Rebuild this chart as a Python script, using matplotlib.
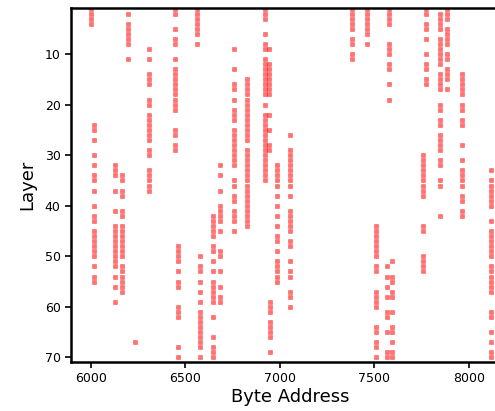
import matplotlib
matplotlib.use("Agg")
import matplotlib.pyplot as plt

# Byte address of each accessed column and the layers that touch it
addresses = [
    6000, 6016, 6127, 6164, 6196, 6233, 6307, 6444, 6460, 6561,
    6577, 6645, 6682, 6757, 6825, 6920, 6942, 6947, 6984, 7053,
    7381, 7460, 7508, 7566, 7576, 7592, 7756, 7772, 7846, 7883,
    7963, 8116,
]
layers = [
    [0, 1, 2, 3, 4],
    [24, 25, 27, 30, 32, 34, 35, 37, 40, 42, 43, 45, 46, 47, 48, 49, 50, 52, 54, 55],
    [32, 33, 34, 37, 41, 44, 45, 46, 47, 48, 49, 50, 51, 52, 54, 56, 59],
    [34, 35, 37, 38, 41, 42, 44, 45, 46, 47, 48, 49, 50, 52, 53, 54, 55, 56, 57],
    [2, 4, 5, 6, 7, 8, 11],
    [67],
    [9, 11, 14, 15, 16, 19, 20, 22, 23, 24, 25, 26, 27, 29, 30, 33, 34, 35, 36, 37],
    [0, 1, 2, 5, 7, 8, 11, 13, 14, 15, 16, 17, 18, 19, 20, 21, 25, 26, 28, 29],
    [48, 49, 50, 51, 53, 55, 56, 60, 61, 62, 68, 70],
    [0, 1, 2, 3, 4, 5, 6, 8],
    [50, 52, 53, 55, 57, 59, 61, 62, 63, 64, 65, 66, 67, 68, 70],
    [42, 43, 44, 45, 46, 48, 49, 51, 53, 55, 56, 57, 58, 59, 62, 66, 68, 69, 70],
    [32, 34, 37, 40, 41, 42, 43, 45, 49, 50, 53, 56, 58, 59],
    [9, 13, 16, 17, 19, 21, 22, 23, 25, 26, 27, 28, 29, 30, 31, 32, 35, 36, 38, 39,
     41, 42, 43, 45],
    [15, 16, 17, 18, 19, 20, 21, 22, 23, 24, 25, 26, 27, 29, 30, 31, 32, 33, 34, 35,
     36, 37, 38, 39, 40, 41, 42, 43, 44],
    [0, 1, 2, 3, 6, 8, 9, 11, 12, 13, 14, 15, 16, 17, 18, 20, 22, 23, 24, 25, 26, 27,
     28, 29, 30, 31, 32, 33, 34, 35],
    [9, 12, 13, 14, 15, 16, 17, 18, 22, 25, 28, 29],
    [59, 60, 61, 63, 64, 65, 66, 69],
    [32, 33, 34, 35, 36, 38, 40, 42, 44, 46, 47, 49, 51, 52, 53, 54, 55],
    [26, 29, 30, 31, 32, 33, 34, 35, 36, 38, 41, 42, 43, 44, 45, 47, 48, 51, 53, 54,
     57, 58, 60],
    [0, 1, 2, 3, 4, 5, 7, 8, 10, 11],
    [0, 1, 2, 3, 4, 5, 6, 8],
    [44, 45, 46, 47, 48, 49, 50, 52, 53, 57, 58, 59, 60, 64, 65, 67, 68, 70],
    [52, 54, 56, 58, 61, 62, 65, 69, 70],
    [0, 1, 2, 3, 4, 8, 9, 10, 12, 13, 16, 19],
    [51, 54, 55, 57, 58, 61, 64, 65, 67, 69, 70],
    [30, 31, 32, 33, 34, 35, 36, 37, 38, 44, 45, 50, 51, 52, 53],
    [0, 1, 2, 4, 5, 7, 10, 12, 13, 15, 16],
    [2, 3, 4, 5, 7, 8, 9, 10, 11, 12, 14, 15, 16, 17, 20, 21, 23, 24, 26, 27, 28, 29,
     31, 32, 35, 36, 42],
    [0, 1, 2, 3, 5, 6, 7, 8, 10, 11, 13, 14, 15, 17],
    [14, 15, 16, 17, 18, 20, 21, 23, 24, 28, 31, 33, 34, 35, 36, 38, 39, 41, 42],
    [33, 35, 36, 37, 38, 39, 40, 43, 45, 46, 47, 48, 49, 50, 52, 53, 54, 55, 56, 57,
     61, 62, 65, 67, 69, 70],
]

xs = [a for a, ls in zip(addresses, layers) for _ in ls]
ys = [l for ls in layers for l in ls]

fig = plt.figure(figsize=(4.95, 4.11), dpi=100)
ax = fig.add_axes([0.1434, 0.1192, 0.8848, 0.8613])

ax.scatter(xs, ys, marker="s", s=9, color="red", alpha=0.55,
           edgecolors="red", linewidths=0.4, clip_on=True)

ax.set_xlim(5894, 8212)
ax.set_ylim(70.9, 0.9)
ax.set_xticks([6000, 6500, 7000, 7500, 8000])
ax.set_yticks([10, 20, 30, 40, 50, 60, 70])
ax.tick_params(labelsize=9, length=4, width=1.2, colors="black")
for sp in ax.spines.values():
    sp.set_linewidth(1.8)

ax.set_xlabel("Byte Address", fontsize=13, labelpad=2)
ax.set_ylabel("Layer", fontsize=13, labelpad=6)

fig.savefig("out.png", dpi=100)
